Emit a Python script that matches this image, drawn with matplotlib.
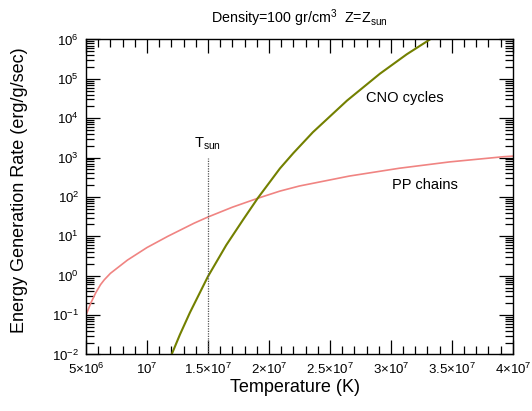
import matplotlib
matplotlib.use("Agg")
import matplotlib.pyplot as plt
from matplotlib.ticker import FixedLocator, LogLocator, NullFormatter
import numpy as np

plt.rcParams['font.family'] = ['Liberation Sans', 'DejaVu Sans']
plt.rcParams['mathtext.fontset'] = 'custom'
plt.rcParams['mathtext.rm'] = 'Liberation Sans'
plt.rcParams['mathtext.it'] = 'Liberation Sans'

# PP chains (temperature in K, rate in erg/g/sec)
pp_temp = [5.0e6, 5.385e6, 5.8e6, 6.2e6, 6.5e6, 7.0e6, 8.4e6, 1.0e7, 1.17e7, 1.385e7,
           1.5e7, 1.7e7, 1.91e7, 2.09e7, 2.25e7, 2.66e7, 3.07e7, 3.48e7, 3.92e7, 4.0e7]
pp_rate = [0.1, 0.2, 0.37, 0.6, 0.79, 1.15, 2.5, 5.2, 10, 21.5,
           31, 55, 93, 141, 190, 340, 537, 776, 1050, 1090]

# CNO cycles
cno_temp = [1.202e7, 1.27e7, 1.352e7, 1.5e7, 1.65e7, 1.79e7, 1.91e7, 2.09e7, 2.2e7,
            2.36e7, 2.64e7, 2.91e7, 3.13e7, 3.32e7]
cno_rate = [0.01, 0.032, 0.116, 0.96, 6.0, 27, 95, 530, 1300,
            4400, 2.8e4, 1.35e5, 4.2e5, 1.0e6]

t_sun = 1.5e7
x_ticks = [5e6, 1e7, 1.5e7, 2e7, 2.5e7, 3e7, 3.5e7, 4e7]
x_labels = [r'$5{\times}10^{6}$', r'$10^{7}$', r'$1.5{\times}10^{7}$', r'$2{\times}10^{7}$',
            r'$2.5{\times}10^{7}$', r'$3{\times}10^{7}$', r'$3.5{\times}10^{7}$', r'$4{\times}10^{7}$']

fig = plt.figure(figsize=(5.32, 4.11), dpi=100)
ax = fig.add_axes([0.1617, 0.1375, 0.8023, 0.7665])

ax.semilogy(pp_temp, pp_rate, color='#f08482', linewidth=1.2)
ax.semilogy(cno_temp, cno_rate, color='#738000', linewidth=1.5)
ax.plot([t_sun, t_sun], [1e-2, 1e3], color='#555555', linestyle=(0, (1, 1)), linewidth=0.9)

ax.set_xlim(5e6, 4e7)
ax.set_ylim(1e-2, 1e6)

ax.xaxis.set_major_locator(FixedLocator(x_ticks))
ax.xaxis.set_minor_locator(FixedLocator(np.arange(5e6, 4.01e7, 1e6)))
ax.set_xticklabels(x_labels, fontsize=9.5)
ax.yaxis.set_major_locator(LogLocator(base=10, numticks=20))
ax.yaxis.set_minor_locator(LogLocator(base=10, subs=np.arange(2, 10), numticks=20))
ax.yaxis.set_minor_formatter(NullFormatter())
ax.tick_params(axis='both', which='both', direction='in', top=True, right=True, width=0.9)
ax.tick_params(axis='both', which='major', length=10, labelsize=9.5)
ax.tick_params(axis='x', which='major', pad=5)
ax.tick_params(axis='y', which='major', pad=5)
ax.tick_params(axis='both', which='minor', length=5.5)
for s in ax.spines.values():
    s.set_linewidth(1.0)

ax.set_xlabel('Temperature (K)', fontsize=13)
ax.xaxis.set_label_coords(0.49, -0.078)
ax.xaxis.label.set_va('top')
ax.set_ylabel('Energy Generation Rate (erg/g/sec)', fontsize=13)
ax.yaxis.set_label_coords(-0.135, 0.522)
ax.set_title(r'Density=100 gr/cm$^{3}$  Z=Z$_{\mathrm{sun}}$', fontsize=10.3, pad=12)

ax.text(3.115e7, 3.3e4, 'CNO cycles', fontsize=10.5, ha='center', va='center')
ax.text(3.276e7, 204, 'PP chains', fontsize=10.5, ha='center', va='center')
ax.text(t_sun, 1.4e3, r'T$_{\mathrm{sun}}$', fontsize=10.5, ha='center', va='bottom')

fig.savefig('out.png', dpi=100)
